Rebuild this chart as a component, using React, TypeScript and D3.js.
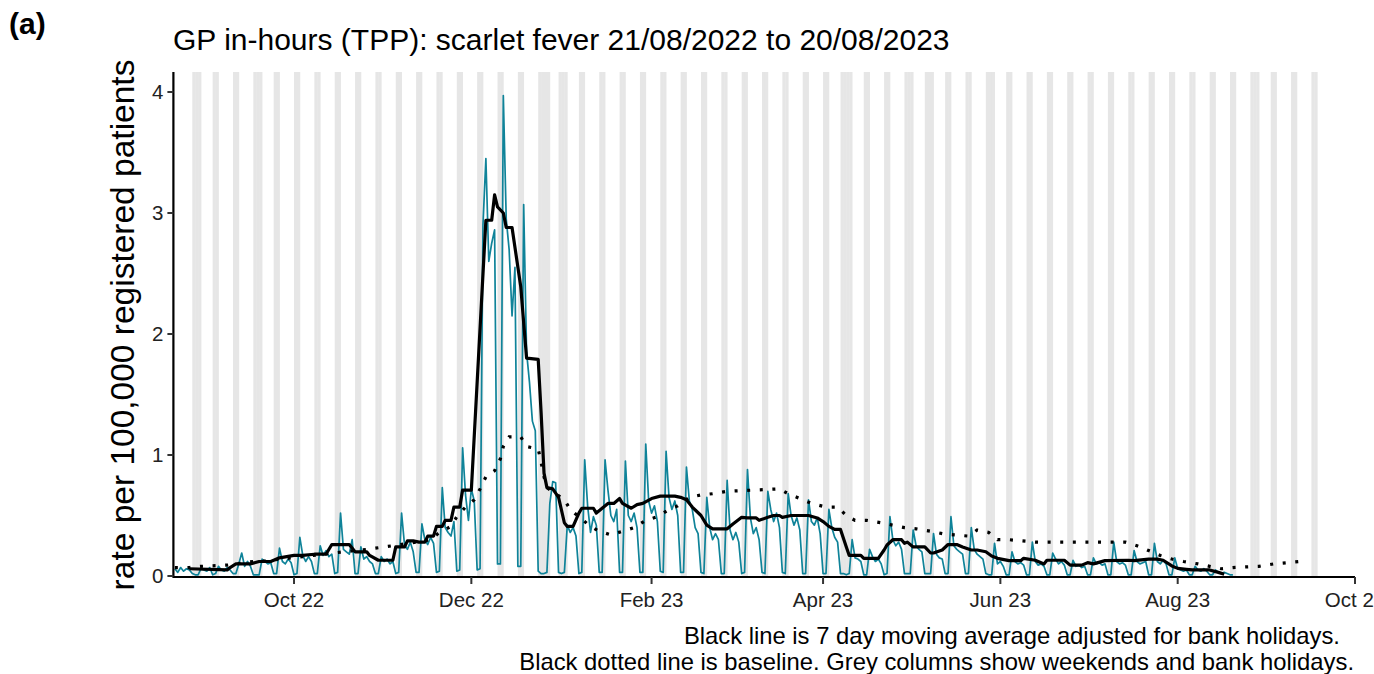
import React from "react";
import * as d3 from "d3";

// ---------- DATA ----------
const firstDay = "2022-08-21";
// daily rate per 100,000 (21/08/2022 .. 20/08/2023), one row per week Sun..Sat
const dailyRate: number[] = [
  0.06, 0.03, 0.07, 0.04, 0.06, 0.05, 0.02,
  0.01, 0.01, 0.06, 0.05, 0.04, 0.07, 0.01,
  0.02, 0.08, 0.05, 0.04, 0.07, 0.05, 0.02,
  0.02, 0.10, 0.19, 0.08, 0.12, 0.08, 0.01,
  0.01, 0.01, 0.14, 0.12, 0.10, 0.11, 0.02,
  0.02, 0.23, 0.12, 0.10, 0.14, 0.11, 0.01,
  0.02, 0.32, 0.17, 0.12, 0.16, 0.12, 0.02,
  0.02, 0.25, 0.17, 0.21, 0.16, 0.18, 0.02,
  0.03, 0.52, 0.22, 0.20, 0.18, 0.30, 0.02,
  0.02, 0.24, 0.14, 0.16, 0.12, 0.10, 0.02,
  0.02, 0.16, 0.12, 0.14, 0.10, 0.12, 0.02,
  0.03, 0.52, 0.26, 0.22, 0.28, 0.20, 0.03,
  0.03, 0.43, 0.30, 0.26, 0.32, 0.27, 0.03,
  0.04, 0.73, 0.40, 0.36, 0.33, 0.45, 0.04,
  0.05, 1.06, 0.67, 0.46, 0.72, 0.62, 0.05,
  0.06, 2.90, 3.45, 2.60, 2.75, 2.86, 0.10,
  0.10, 3.97, 2.95, 2.70, 2.15, 2.55, 0.08,
  0.08, 3.07, 1.85, 1.60, 1.28, 1.20, 0.04,
  0.02, 0.02, 0.03, 0.60, 0.78, 0.77, 0.03,
  0.02, 0.03, 0.42, 0.36, 0.40, 0.33, 0.02,
  0.03, 0.96, 0.58, 0.36, 0.49, 0.42, 0.03,
  0.03, 0.96, 0.71, 0.50, 0.45, 0.55, 0.03,
  0.03, 0.95, 0.50, 0.45, 0.52, 0.40, 0.03,
  0.03, 1.09, 0.62, 0.52, 0.58, 0.45, 0.04,
  0.03, 1.03, 0.65, 0.55, 0.62, 0.50, 0.03,
  0.03, 0.90, 0.62, 0.55, 0.40, 0.35, 0.03,
  0.02, 0.65, 0.40, 0.30, 0.35, 0.30, 0.02,
  0.02, 0.79, 0.38, 0.30, 0.36, 0.28, 0.02,
  0.03, 0.88, 0.48, 0.35, 0.40, 0.30, 0.03,
  0.02, 0.70, 0.55, 0.45, 0.52, 0.40, 0.03,
  0.02, 0.68, 0.50, 0.42, 0.48, 0.38, 0.02,
  0.02, 0.63, 0.45, 0.42, 0.48, 0.35, 0.02,
  0.02, 0.55, 0.40, 0.32, 0.28, 0.02, 0.02,
  0.01, 0.02, 0.30, 0.15, 0.14, 0.12, 0.01,
  0.01, 0.22, 0.16, 0.12, 0.14, 0.10, 0.01,
  0.02, 0.49, 0.30, 0.25, 0.28, 0.22, 0.02,
  0.02, 0.02, 0.38, 0.25, 0.22, 0.20, 0.02,
  0.02, 0.02, 0.35, 0.18, 0.15, 0.14, 0.02,
  0.02, 0.49, 0.25, 0.22, 0.20, 0.18, 0.02,
  0.02, 0.40, 0.22, 0.18, 0.16, 0.14, 0.02,
  0.01, 0.01, 0.27, 0.10, 0.12, 0.08, 0.01,
  0.01, 0.20, 0.12, 0.10, 0.11, 0.09, 0.01,
  0.01, 0.28, 0.12, 0.09, 0.10, 0.08, 0.01,
  0.01, 0.19, 0.14, 0.10, 0.12, 0.09, 0.01,
  0.01, 0.13, 0.08, 0.09, 0.07, 0.08, 0.01,
  0.01, 0.15, 0.10, 0.11, 0.09, 0.10, 0.01,
  0.01, 0.28, 0.12, 0.10, 0.11, 0.09, 0.01,
  0.01, 0.21, 0.12, 0.10, 0.11, 0.12, 0.01,
  0.01, 0.27, 0.12, 0.10, 0.13, 0.10, 0.01,
  0.01, 0.15, 0.06, 0.05, 0.04, 0.05, 0.01,
  0.01, 0.08, 0.05, 0.04, 0.06, 0.04, 0.01,
  0.01, 0.05, 0.03, 0.02, 0.03, 0.02, 0.01,
  0.01,
];

// 7 day moving average (black line)
const maDates: string[] = [
  "2022-08-26", "2022-09-08", "2022-09-09", "2022-09-11", "2022-09-16", "2022-09-19", "2022-09-23", "2022-09-26",
  "2022-10-01", "2022-10-04", "2022-10-08", "2022-10-12", "2022-10-14", "2022-10-20", "2022-10-22", "2022-10-26",
  "2022-10-27", "2022-10-30", "2022-11-04", "2022-11-05", "2022-11-08", "2022-11-09", "2022-11-11", "2022-11-13",
  "2022-11-15", "2022-11-16", "2022-11-18", "2022-11-19", "2022-11-21", "2022-11-22", "2022-11-24", "2022-11-25",
  "2022-11-27", "2022-11-28", "2022-12-01", "2022-12-06", "2022-12-08", "2022-12-09", "2022-12-10", "2022-12-12",
  "2022-12-13", "2022-12-15", "2022-12-18", "2022-12-20", "2022-12-24", "2022-12-25", "2022-12-26", "2022-12-27",
  "2022-12-29", "2022-12-31", "2023-01-02", "2023-01-03", "2023-01-05", "2023-01-07", "2023-01-08", "2023-01-12",
  "2023-01-13", "2023-01-15", "2023-01-17", "2023-01-19", "2023-01-21", "2023-01-22", "2023-01-25", "2023-01-27",
  "2023-01-29", "2023-02-01", "2023-02-04", "2023-02-09", "2023-02-11", "2023-02-13", "2023-02-15", "2023-02-18",
  "2023-02-20", "2023-02-22", "2023-02-27", "2023-03-01", "2023-03-04", "2023-03-06", "2023-03-09", "2023-03-10",
  "2023-03-13", "2023-03-15", "2023-03-17", "2023-03-18", "2023-03-21", "2023-03-27", "2023-03-30", "2023-04-01",
  "2023-04-03", "2023-04-05", "2023-04-07", "2023-04-09", "2023-04-10", "2023-04-14", "2023-04-15", "2023-04-20",
  "2023-04-22", "2023-04-23", "2023-04-25", "2023-04-28", "2023-04-29", "2023-04-30", "2023-05-02", "2023-05-06",
  "2023-05-08", "2023-05-09", "2023-05-12", "2023-05-14", "2023-05-17", "2023-05-19", "2023-05-22", "2023-05-24",
  "2023-05-27", "2023-05-29", "2023-05-31", "2023-06-04", "2023-06-08", "2023-06-09", "2023-06-13", "2023-06-16",
  "2023-06-17", "2023-06-23", "2023-06-25", "2023-06-29", "2023-07-01", "2023-07-03", "2023-07-07", "2023-07-15",
  "2023-07-17", "2023-07-22", "2023-07-25", "2023-07-27", "2023-07-30", "2023-08-01", "2023-08-04", "2023-08-06",
  "2023-08-12", "2023-08-15", "2023-08-17",
];
const maValues: number[] = [
  0.06, 0.05, 0.07, 0.10, 0.10, 0.12, 0.12, 0.15,
  0.17, 0.17, 0.18, 0.18, 0.26, 0.26, 0.20, 0.20,
  0.17, 0.13, 0.13, 0.24, 0.24, 0.29, 0.29, 0.28,
  0.28, 0.33, 0.33, 0.41, 0.41, 0.46, 0.46, 0.57,
  0.57, 0.71, 0.71, 2.94, 2.94, 3.15, 3.05, 3.0,
  2.88, 2.88, 2.39, 1.80, 1.79, 1.35, 0.85, 0.73,
  0.72, 0.65, 0.44, 0.41, 0.41, 0.52, 0.56, 0.56,
  0.52, 0.56, 0.60, 0.60, 0.64, 0.60, 0.56, 0.59,
  0.60, 0.64, 0.66, 0.66, 0.65, 0.63, 0.57, 0.50,
  0.42, 0.39, 0.39, 0.43, 0.485, 0.48, 0.48, 0.46,
  0.485, 0.50, 0.50, 0.485, 0.50, 0.50, 0.48, 0.45,
  0.41, 0.385, 0.385, 0.24, 0.17, 0.17, 0.146, 0.146,
  0.215, 0.256, 0.30, 0.30, 0.27, 0.28, 0.24, 0.24,
  0.19, 0.19, 0.215, 0.26, 0.26, 0.24, 0.215, 0.215,
  0.20, 0.165, 0.146, 0.127, 0.127, 0.146, 0.13, 0.10,
  0.13, 0.13, 0.09, 0.09, 0.11, 0.10, 0.127, 0.13,
  0.127, 0.14, 0.14, 0.13, 0.083, 0.063, 0.055, 0.05,
  0.05, 0.03, 0.014,
];

// baseline (black dotted line)
const baseDates: string[] = [
  "2022-08-21", "2022-08-26", "2022-08-30", "2022-09-08", "2022-09-17", "2022-09-21", "2022-10-04", "2022-10-18",
  "2022-10-26", "2022-11-04", "2022-11-17", "2022-11-20", "2022-11-24", "2022-11-26", "2022-11-29", "2022-12-02",
  "2022-12-04", "2022-12-06", "2022-12-09", "2022-12-11", "2022-12-12", "2022-12-14", "2022-12-18", "2022-12-20",
  "2022-12-24", "2022-12-25", "2022-12-26", "2022-12-27", "2022-12-30", "2023-01-02", "2023-01-04", "2023-01-07",
  "2023-01-11", "2023-01-14", "2023-01-18", "2023-01-22", "2023-01-26", "2023-01-30", "2023-02-03", "2023-02-07",
  "2023-02-10", "2023-02-14", "2023-02-18", "2023-02-22", "2023-02-27", "2023-03-08", "2023-03-17", "2023-03-20",
  "2023-03-24", "2023-03-28", "2023-04-02", "2023-04-06", "2023-04-09", "2023-04-12", "2023-04-16", "2023-04-21",
  "2023-04-25", "2023-04-29", "2023-05-03", "2023-05-08", "2023-05-12", "2023-05-16", "2023-05-21", "2023-05-24",
  "2023-05-28", "2023-05-31", "2023-06-04", "2023-06-13", "2023-07-14", "2023-07-18", "2023-07-22", "2023-07-26",
  "2023-07-30", "2023-08-03", "2023-08-08", "2023-08-12", "2023-08-16", "2023-08-20", "2023-08-29", "2023-09-03",
  "2023-09-12",
];
const baseValues: number[] = [
  0.07, 0.07, 0.08, 0.09, 0.12, 0.125, 0.16, 0.20,
  0.22, 0.25, 0.30, 0.36, 0.41, 0.49, 0.57, 0.63,
  0.72, 0.82, 0.87, 0.97, 1.07, 1.15, 1.15, 1.07,
  1.05, 0.94, 0.82, 0.73, 0.68, 0.63, 0.55, 0.49,
  0.41, 0.37, 0.34, 0.37, 0.40, 0.46, 0.49, 0.55,
  0.58, 0.65, 0.67, 0.68, 0.70, 0.71, 0.72, 0.68,
  0.64, 0.60, 0.57, 0.57, 0.50, 0.46, 0.46, 0.44,
  0.42, 0.40, 0.39, 0.37, 0.35, 0.34, 0.33, 0.38,
  0.36, 0.30, 0.30, 0.28, 0.28, 0.25, 0.21, 0.17,
  0.14, 0.12, 0.10, 0.08, 0.06, 0.07, 0.08, 0.10,
  0.12,
];

const bankHolidays: string[] = [
  "2022-08-29", "2022-09-19", "2022-12-26", "2022-12-27", "2023-01-02",
  "2023-04-07", "2023-04-10", "2023-05-01", "2023-05-08", "2023-05-29", "2023-08-28",
];
const shadeFrom = "2022-08-27";
const shadeTo = "2023-09-18";

const xTickDates: string[] = ["2022-10-01", "2022-12-01", "2023-02-01", "2023-04-01", "2023-06-01", "2023-08-01", "2023-10-01"];
const xTickLabels: string[] = ["Oct 22", "Dec 22", "Feb 23", "Apr 23", "Jun 23", "Aug 23", "Oct 23"];
const yTicks: number[] = [0, 1, 2, 3, 4];

const titleText = "GP in-hours (TPP): scarlet fever 21/08/2022 to 20/08/2023";
const yLabel = "rate per 100,000 registered patients";
const caption1 = "Black line is 7 day moving average adjusted for bank holidays.";
const caption2 = "Black dotted line is baseline. Grey columns show weekends and bank holidays.";

// ---------- CHART ----------
const parse = d3.timeParse("%Y-%m-%d");
const FONT = "'Liberation Sans', Arial, sans-serif";

export default function App() {
  const W = 1374, H = 674;
  const left = 173.4, right = 1355, top = 72, bottom = 576;
  const x = d3.scaleTime().domain([new Date(2022, 7, 20, 12), new Date(2023, 9, 1)]).range([left, right]);
  const y = d3.scaleLinear().domain([0, 4]).range([bottom, 92]);

  const start = parse(firstDay)!;
  const daily = dailyRate.map((v, i) => ({ date: d3.timeDay.offset(start, i), v }));
  const ma = maDates.map((s, i) => ({ date: parse(s)!, v: maValues[i] }));
  const base = baseDates.map((s, i) => ({ date: parse(s)!, v: baseValues[i] }));

  const bh = new Set(bankHolidays);
  const fmt = d3.timeFormat("%Y-%m-%d");
  const shadeDays = d3.timeDay
    .range(parse(shadeFrom)!, parse(shadeTo)!)
    .filter((d) => d.getDay() === 0 || d.getDay() === 6 || bh.has(fmt(d)));

  const line = d3.line<{ date: Date; v: number }>().x((d) => x(d.date)).y((d) => y(d.v));

  return (
    <svg width={W} height={H} style={{ position: "absolute", left: 0, top: 0, background: "#fff" }} fontFamily={FONT}>
      {/* grey columns */}
      {shadeDays.map((d, i) => (
        <rect key={i} x={x(d)} y={top} width={x(d3.timeDay.offset(d, 1)) - x(d) + 0.4} height={bottom - top} fill="#e6e6e6" />
      ))}
      {/* daily series */}
      <path d={line(daily)!} fill="none" stroke="#0f8399" strokeWidth={1.7} strokeLinejoin="round" />
      {/* baseline */}
      <path d={line(base)!} fill="none" stroke="#000" strokeWidth={3.2} strokeDasharray="3 9.6" />
      {/* moving average */}
      <path d={line(ma)!} fill="none" stroke="#000" strokeWidth={3.2} strokeLinejoin="round" />

      {/* axes */}
      <line x1={left} x2={left} y1={top} y2={bottom + 1} stroke="#000" strokeWidth={2.2} />
      <line x1={left - 1} x2={right} y1={bottom + 1} y2={bottom + 1} stroke="#000" strokeWidth={2.2} />
      {yTicks.map((t) => (
        <g key={t}>
          <line x1={left - 6} x2={left} y1={y(t)} y2={y(t)} stroke="#333" strokeWidth={2} />
          <text x={left - 10} y={y(t) + 7} textAnchor="end" fontSize={20.5} fill="#222">{t}</text>
        </g>
      ))}
      {xTickDates.map((s, i) => {
        const xx = x(parse(s)!);
        return (
          <g key={s}>
            <line x1={xx} x2={xx} y1={bottom + 1} y2={bottom + 8} stroke="#333" strokeWidth={2} />
            <text x={xx} y={607} textAnchor="middle" fontSize={20.5} fill="#222">{xTickLabels[i]}</text>
          </g>
        );
      })}

      {/* labels */}
      <text transform={`translate(134, ${(top + bottom) / 2 + 1}) rotate(-90)`} textAnchor="middle" fontSize={33.5} fill="#000">{yLabel}</text>
      <text x={173} y={50} fontSize={30} fill="#000">{titleText}</text>
      <text x={9} y={34} fontSize={30} fontWeight="bold" fill="#000">(a)</text>
      <text x={1340} y={644} textAnchor="end" fontSize={23.8} fill="#000">{caption1}</text>
      <text x={1354} y={670} textAnchor="end" fontSize={23.8} fill="#000">{caption2}</text>
    </svg>
  );
}
